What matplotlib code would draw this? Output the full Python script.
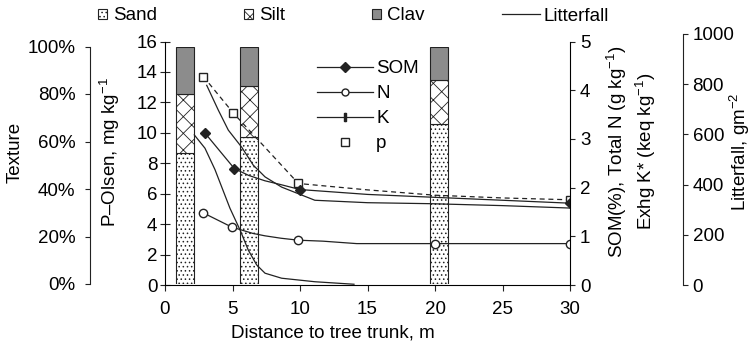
import matplotlib
matplotlib.use('Agg')
import matplotlib.pyplot as plt
from matplotlib.lines import Line2D
from matplotlib.patches import Patch
from matplotlib.ticker import FuncFormatter

plt.rcParams['font.family'] = ['Liberation Sans', 'DejaVu Sans']
plt.rcParams['font.size'] = 13.5
plt.rcParams['mathtext.fontset'] = 'custom'
plt.rcParams['mathtext.rm'] = 'Liberation Sans'
plt.rcParams['mathtext.it'] = 'Liberation Sans:italic'
plt.rcParams['hatch.linewidth'] = 0.6
plt.rcParams['axes.linewidth'] = 0.8

# texture bars (%)
bar_x = [1.5, 6.25, 20.3]
sand = [55, 62, 67.5]
silt = [25, 21.5, 18.5]
clay = [20, 16.5, 14]

# P-Olsen, mg/kg (dashed, squares)
p_x = [2.84, 5.06, 9.88, 15, 20, 25, 30]
p_val = [13.7, 11.3, 6.67, 6.25, 5.9, 5.72, 5.6]
p_marks = [0, 1, 2, 6]

# SOM (%)
som_x = [2.96, 5.14, 6.2, 7.4, 8.6, 10, 15, 20, 25, 30]
som_val = [3.12, 2.39, 2.25, 2.14, 2.06, 1.96, 1.86, 1.80, 1.74, 1.68]
som_marks = [0, 1, 5, 9]

# total N (g/kg)
n_x = [2.84, 4.94, 6.5, 7.4, 8.6, 9.88, 11.7, 14.2, 20, 25, 30]
n_val = [1.48, 1.19, 1.06, 1.01, 0.96, 0.92, 0.90, 0.85, 0.85, 0.85, 0.85]
n_marks = [0, 1, 5, 8, 10]

# exchangeable K
k_x = [3.09, 3.95, 4.69, 5.68, 6.54, 7.41, 8.64, 11.1, 15, 19.6, 25, 30]
k_val = [4.10, 3.59, 3.18, 2.83, 2.46, 2.22, 2.01, 1.74, 1.69, 1.67, 1.63, 1.58]

# litterfall, g/m2
lit_x = [2.17, 2.96, 3.70, 4.81, 5.56, 6.17, 6.79, 7.41, 8.64, 11.1, 14.0]
lit_val = [598, 545, 460, 306, 219, 139, 80, 47, 27, 13, 3]

W, H = 756, 346


def px(left, top, right, bottom):
    return [left / W, 1 - bottom / H, (right - left) / W, (bottom - top) / H]


fig = plt.figure(figsize=(W / 100, H / 100), dpi=100)
ink = '#222222'

# texture axis (bars)
ax_tex = fig.add_axes(px(165, 46.5, 570, 284))
ax_tex.patch.set_visible(False)
ax_tex.set_xlim(0, 30)
ax_tex.set_ylim(0, 100)
bot2 = [a + b for a, b in zip(sand, silt)]
ax_tex.bar(bar_x, sand, width=1.35, color='white', edgecolor=ink, hatch='....', lw=0.8)
ax_tex.bar(bar_x, silt, width=1.35, bottom=sand, color='white', edgecolor=ink, hatch='xx', lw=0.8)
ax_tex.bar(bar_x, clay, width=1.35, bottom=bot2, color='#8c8c8c', edgecolor=ink, lw=0.8)
for s in ['top', 'right', 'bottom']:
    ax_tex.spines[s].set_visible(False)
ax_tex.spines['left'].set_position(('outward', 54))
ax_tex.spines['left'].set_color(ink)
ax_tex.set_xticks([])
ax_tex.set_yticks(range(0, 101, 20))
ax_tex.yaxis.set_major_formatter(FuncFormatter(lambda v, _: f'{int(v)}%'))
ax_tex.tick_params(axis='y', direction='out', length=3.6, pad=7, color=ink)
ax_tex.set_ylabel('Texture')
ax_tex.yaxis.set_label_coords(-0.349, 0.556)

# main axis (P-Olsen)
ax = fig.add_axes(px(165, 41.5, 570, 285))
ax.patch.set_visible(False)
ax.set_xlim(0, 30)
ax.set_ylim(0, 16)
ax.plot(p_x, p_val, ls=(0, (4, 3)), color=ink, lw=0.9, marker='s', ms=6,
        mfc='white', mec=ink, markevery=p_marks)
ax.set_xticks(range(0, 31, 5))
ax.set_yticks(range(0, 17, 2))
for s in ['top', 'right']:
    ax.spines[s].set_visible(False)
ax.tick_params(axis='y', direction='inout', length=7, pad=2, color=ink)
ax.tick_params(axis='x', direction='out', length=4.5, pad=7, color=ink)
ax.set_ylabel('P–Olsen, mg kg$^{-1}$')
ax.yaxis.set_label_coords(-0.105, 0.545)
ax.set_xlabel('Distance to tree trunk, m')
ax.xaxis.set_label_coords(0.415, -0.163)

# right axis (SOM, N, K)
ax2 = ax.twinx()
ax2.set_ylim(0, 5)
ax2.plot(som_x, som_val, color=ink, lw=0.9, marker='D', ms=5, mfc=ink, mec=ink, markevery=som_marks)
ax2.plot(n_x, n_val, color=ink, lw=0.9, marker='o', ms=6, mfc='white', mec=ink, markevery=n_marks)
ax2.plot(k_x, k_val, color=ink, lw=0.9)
for s in ['top', 'left', 'bottom']:
    ax2.spines[s].set_visible(False)
ax2.set_yticks(range(0, 6))
ax2.tick_params(axis='y', direction='out', length=3.6, pad=3.6, color=ink)
ax2.set_ylabel('SOM(%), Total N (g kg$^{-1}$)\nExhg K* (keq kg$^{-1}$)', linespacing=1.3)
ax2.yaxis.set_label_coords(1.086, 0.549)

# litterfall axis
ax_lit = fig.add_axes(px(165, 34, 570, 285))
ax_lit.patch.set_visible(False)
ax_lit.set_xlim(0, 30)
ax_lit.set_ylim(0, 1000)
ax_lit.plot(lit_x, lit_val, color=ink, lw=0.9)
for s in ['top', 'left', 'bottom']:
    ax_lit.spines[s].set_visible(False)
ax_lit.spines['right'].set_position(('outward', 81))
ax_lit.spines['right'].set_color(ink)
ax_lit.yaxis.tick_right()
ax_lit.yaxis.set_label_position('right')
ax_lit.set_xticks([])
ax_lit.set_yticks(range(0, 1001, 200))
ax_lit.tick_params(axis='y', direction='out', length=3.6, pad=3.6, color=ink)
ax_lit.set_ylabel('Litterfall, gm$^{-2}$')
ax_lit.yaxis.set_label_coords(1.39, 0.53)

# inner legend
inner = [
    Line2D([], [], color=ink, lw=0.9, marker='D', ms=5, mfc=ink, mec=ink),
    Line2D([], [], color=ink, lw=0.9, marker='o', ms=5, mfc='white', mec=ink),
    Line2D([], [], color=ink, lw=0.9, marker=r'$\Vert$', ms=6, mec=ink),
    Line2D([], [], ls='none', marker='s', ms=6, mfc='white', mec=ink),
]
fig.legend(inner, ['SOM', 'N', 'K', 'p'], loc='upper left', bbox_to_anchor=(317 / W, 1 - 60 / H),
           frameon=False, handlelength=3.0, handletextpad=0.15, labelspacing=0.42,
           borderpad=0, borderaxespad=0)

# top legend
tex_handles = [
    Patch(facecolor='white', edgecolor=ink, hatch='....', lw=0.8),
    Patch(facecolor='white', edgecolor=ink, hatch='xx', lw=0.8),
    Patch(facecolor='#8c8c8c', edgecolor=ink, lw=0.8),
]
fig.legend(tex_handles, ['Sand', 'Silt', 'Clav'], loc='center left', bbox_to_anchor=(98 / W, 1 - 16 / H),
           ncol=3, frameon=False, handlelength=0.5, handleheight=0.5, handletextpad=0.33,
           columnspacing=4.6, borderpad=0, borderaxespad=0)
fig.legend([Line2D([], [], color=ink, lw=0.9)], ['Litterfall'], loc='center left',
           bbox_to_anchor=(502 / W, 1 - 16 / H), frameon=False, handlelength=2.0,
           handletextpad=0.2, borderpad=0, borderaxespad=0)

fig.savefig('out.png', dpi=100)
